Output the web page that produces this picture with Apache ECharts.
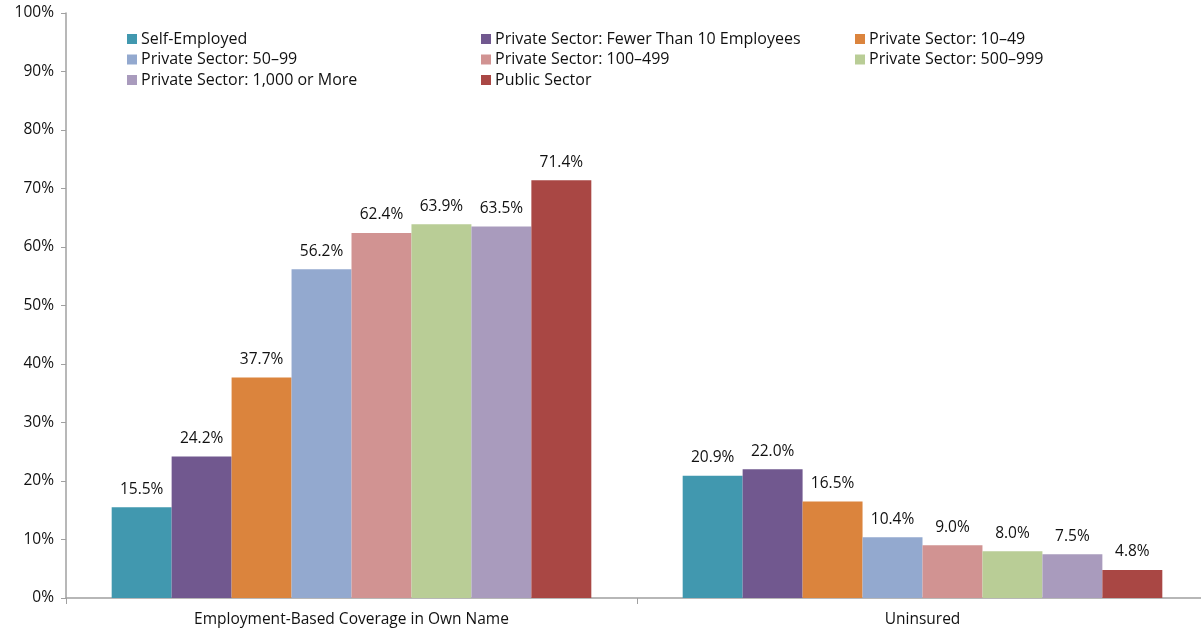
<!DOCTYPE html>
<html><head><meta charset="utf-8">
<script src="https://cdn.jsdelivr.net/npm/echarts@6/dist/echarts.min.js"></script>
<style>html,body{margin:0;padding:0;background:#fff}#c{width:1201px;height:632px}</style>
</head><body><div id="c"></div>
<script>
const categories = ['Employment-Based Coverage in Own Name', 'Uninsured'];
const seriesNames = ['Self-Employed', 'Private Sector: Fewer Than 10 Employees', 'Private Sector: 10\u201349', 'Private Sector: 50\u201399', 'Private Sector: 100\u2013499', 'Private Sector: 500\u2013999', 'Private Sector: 1,000 or More', 'Public Sector'];
const colors = ['#4198AF', '#71588F', '#DB843D', '#93A9CF', '#D19392', '#B9CD96', '#A99BBD', '#A94744'];
const selfEmployed = [15.5, 20.9];
const fewerThan10 = [24.2, 22.0];
const size10to49 = [37.7, 16.5];
const size50to99 = [56.2, 10.4];
const size100to499 = [62.4, 9.0];
const size500to999 = [63.9, 8.0];
const size1000plus = [63.5, 7.5];
const publicSector = [71.4, 4.8];
const values = [selfEmployed, fewerThan10, size10to49, size50to99, size100to499, size500to999, size1000plus, publicSector];
const yTicks = [0, 10, 20, 30, 40, 50, 60, 70, 80, 90, 100];

const font = 'Open Sans, Lato, sans-serif';
const fs = 15.5;
const chart = echarts.init(document.getElementById('c'));
const legendCommon = {orient: 'vertical', top: 26, itemWidth: 10, itemHeight: 10, itemGap: 4.5, icon: 'rect',
  textStyle: {fontFamily: font, fontSize: 16, color: '#111', padding: [0, 0, 0, -1]}};
chart.setOption({
  animation: false,
  color: colors,
  legend: [
    Object.assign({left: 122, data: [seriesNames[0], seriesNames[3], seriesNames[6]]}, legendCommon),
    Object.assign({left: 476, data: [seriesNames[1], seriesNames[4], seriesNames[7]]}, legendCommon),
    Object.assign({left: 850, data: [seriesNames[2], seriesNames[5]]}, legendCommon)
  ],
  grid: {left: 66, width: 1142, top: 13, bottom: 34, outerBoundsMode: 'none'},
  xAxis: {type: 'category', data: categories,
    axisLine: {lineStyle: {color: '#a0a0a0', width: 1.5}},
    axisTick: {show: true, length: 6, lineStyle: {color: '#a0a0a0'}},
    axisLabel: {fontFamily: font, fontSize: fs, color: '#111', margin: 14}},
  yAxis: {type: 'value', min: 0, max: 100, interval: 10,
    axisLine: {show: true, lineStyle: {color: '#a0a0a0', width: 1.5}},
    axisTick: {show: true, length: 5, lineStyle: {color: '#a0a0a0'}},
    splitLine: {show: false},
    axisLabel: {fontFamily: font, fontSize: fs, color: '#111', margin: 12,
      formatter: v => yTicks.includes(v) ? v + '%' : ''}},
  series: seriesNames.map((n, i) => ({
    name: n, type: 'bar', data: values[i], barGap: 0, barCategoryGap: '16%',
    itemStyle: {color: colors[i]},
    label: {show: true, position: 'top', distance: 10, fontFamily: font, fontSize: fs, color: '#111',
      formatter: p => p.value.toFixed(1) + '%'}
  }))
});
</script></body></html>
